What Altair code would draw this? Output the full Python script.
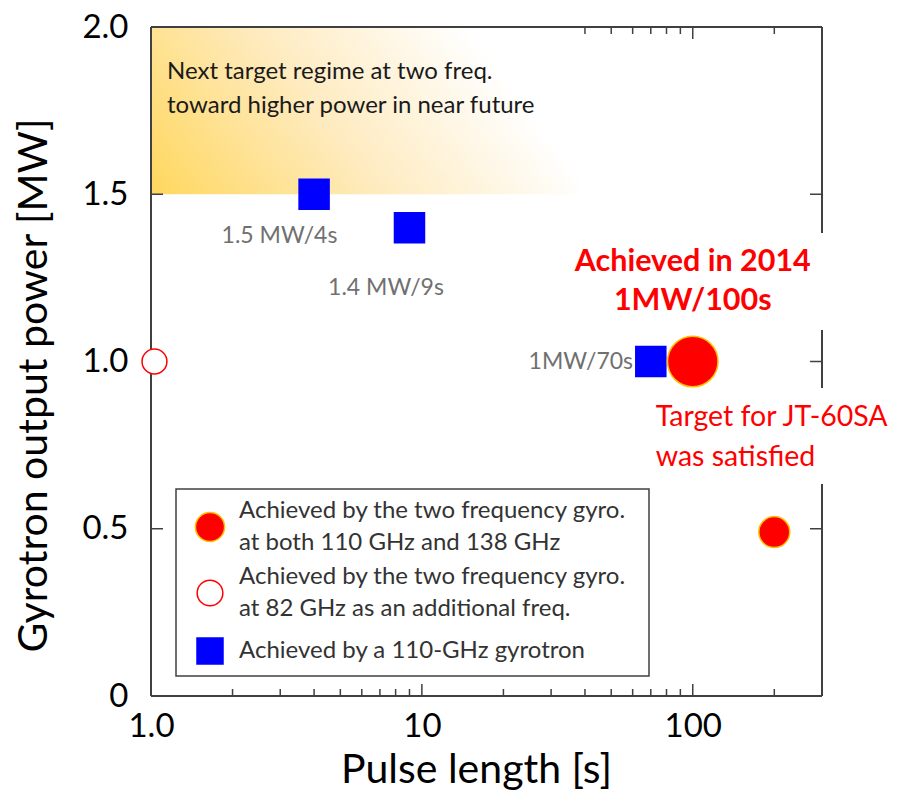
import altair as alt
import pandas as pd

# ---------------- data ----------------
two_freq_pulse = [100, 200]
two_freq_power = [1.0, 0.49]
add_freq_pulse = [1.03]
add_freq_power = [1.0]
g110_pulse = [4, 9, 70]
g110_power = [1.5, 1.4, 1.0]

legend_lines = [
    ["Achieved by the two frequency gyro.", "at both 110 GHz and 138 GHz"],
    ["Achieved by the two frequency gyro.", "at 82 GHz as an additional freq."],
    ["Achieved by a 110-GHz gyrotron"],
]

x_ticks_major = [1, 10, 100]
x_ticks_minor = [2, 3, 4, 5, 6, 7, 8, 9, 20, 30, 40, 50, 60, 70, 80, 90, 200]
y_ticks = [0, 0.5, 1.0, 1.5, 2.0]
y_ticks_inner = [0.5, 1.0, 1.5]
x_domain = [1, 300]
y_domain = [0, 2]

region_pulse = [1, 38]
region_power = [1.5, 2.0]

note_text = ["Next target regime at two freq.", "toward higher power in near future"]
note_pulse = [1.146, 1.146]
note_power = [1.864, 1.765]

grey_text = ["1.5 MW/4s", "1.4 MW/9s"]
grey_pulse = [2.98, 7.37]
grey_power = [1.375, 1.221]

grey_text_r = ["1MW/70s"]
grey_pulse_r = [60.2]
grey_power_r = [1.0]

bold_text = ["Achieved in 2014", "1MW/100s"]
bold_pulse = [100, 100]
bold_power = [1.297, 1.181]

target_text = ["Target for JT-60SA", "was satisfied"]
target_pulse = [73, 73]
target_power = [0.834, 0.7145]

# white text-box backgrounds (data units)
box_x1 = [35, 69]
box_x2 = [400, 600]
box_y1 = [1.094, 0.634]
box_y2 = [1.384, 0.921]

W, H = 671, 669
FRAME = "#404040"
FONT = "Lato"

xscale = alt.Scale(type="log", domain=x_domain, nice=False)
yscale = alt.Scale(domain=y_domain, nice=False, zero=False)

xaxis = alt.Axis(
    values=x_ticks_major,
    labelExpr="datum.value == 1 ? '1.0' : format(datum.value, 'd')",
    ticks=False, tickSize=0, domain=False, grid=False, labelFlush=False,
    labelFontSize=33, labelFont=FONT, labelColor="#000000", labelPadding=14,
    title="Pulse length [s]", titleFontSize=41, titleFont=FONT,
    titleFontWeight="normal", titleColor="#000000",
    titleX=325, titleY=86, titleBaseline="alphabetic", titleAlign="center",
)
yaxis = alt.Axis(
    values=y_ticks,
    labelExpr="datum.value == 0 ? '0' : format(datum.value, '.1f')",
    ticks=False, tickSize=0, domain=False, grid=False, labelFlush=False,
    labelFontSize=33, labelFont=FONT, labelColor="#000000", labelPadding=23,
    title="Gyrotron output power [MW]", titleFontSize=41, titleFont=FONT,
    titleFontWeight="normal", titleColor="#000000",
    titleX=-105, titleY=358, titleAngle=270, titleBaseline="alphabetic",
    titleAlign="center",
)


def X(field):
    return alt.X(field, scale=xscale, axis=xaxis)


def Y(field):
    return alt.Y(field, scale=yscale, axis=yaxis)


# ---------------- layers ----------------
gradient = alt.LinearGradient(
    gradient="linear",
    stops=[
        alt.GradientStop(offset=0, color="#FFD75E"),
        alt.GradientStop(offset=0.5, color="#FEEBC0"),
        alt.GradientStop(offset=0.95, color="#FFFFFF"),
    ],
    x1=0, y1=1, x2=1, y2=0.7,
)
region = alt.Chart(pd.DataFrame({
    "x1": [region_pulse[0]], "x2": [region_pulse[1]],
    "y1": [region_power[0]], "y2": [region_power[1]],
})).mark_rect(color=gradient).encode(
    x=X("x1:Q"), x2="x2:Q", y=Y("y1:Q"), y2="y2:Q",
)

frame_h = alt.Chart(pd.DataFrame({
    "power": y_domain, "x1": [x_domain[0]] * 2, "x2": [x_domain[1]] * 2,
})).mark_rule(color=FRAME, strokeWidth=2).encode(
    x=X("x1:Q"), x2="x2:Q", y=Y("power:Q"),
)
frame_v = alt.Chart(pd.DataFrame({
    "pulse": x_domain, "y1": [y_domain[0]] * 2, "y2": [y_domain[1]] * 2,
})).mark_rule(color=FRAME, strokeWidth=2).encode(
    x=X("pulse:Q"), y=Y("y1:Q"), y2="y2:Q",
)

boxes = alt.Chart(pd.DataFrame({
    "x1": box_x1, "x2": box_x2, "y1": box_y1, "y2": box_y2,
})).mark_rect(color="#FFFFFF").encode(
    x=X("x1:Q"), x2="x2:Q", y=Y("y1:Q"), y2="y2:Q",
)


def xticks(vals, y0, y1):
    return alt.Chart(pd.DataFrame({"v": vals})).mark_rule(
        color=FRAME, strokeWidth=1.5).encode(
        x=X("v:Q"), y=alt.value(y0), y2=alt.value(y1))


def yticks(vals, x0, x1):
    return alt.Chart(pd.DataFrame({"v": vals})).mark_rule(
        color=FRAME, strokeWidth=1.5).encode(
        y=Y("v:Q"), x=alt.value(x0), x2=alt.value(x1))


top_ticks = [xticks(x_ticks_minor, 0, 7), xticks(x_ticks_major, 0, 12)]
other_ticks = [
    xticks(x_ticks_minor, H, H - 7),
    xticks(x_ticks_major, H, H - 12),
    yticks(y_ticks_inner, 0, 12),
    yticks(y_ticks_inner, W, W - 12),
]

RED, BLUE, GOLD = "#FF0000", "#0000FF", "#FFC000"


def series(px, py, size, **mk):
    df = pd.DataFrame({"pulse": px, "power": py})
    return alt.Chart(df).mark_point(opacity=1, strokeWidth=1.5, **mk).encode(
        x=X("pulse:Q"), y=Y("power:Q"), size=size,
    )


pts_110 = series(g110_pulse, g110_power, alt.value(900),
                 shape="square", filled=True, fill=BLUE, stroke=BLUE)
pts_add = series(add_freq_pulse, add_freq_power, alt.value(620),
                 shape="circle", filled=True, fill="#FFFFFF", stroke=RED)
pts_two = series(two_freq_pulse, two_freq_power,
                 alt.condition("datum.pulse == 100", alt.value(2550), alt.value(960)),
                 shape="circle", filled=True, fill=RED, stroke=GOLD)


def texts(t, px, py, **kw):
    df = pd.DataFrame({"t": t, "pulse": px, "power": py})
    return alt.Chart(df).mark_text(baseline="middle", font=FONT, **kw).encode(
        x=X("pulse:Q"), y=Y("power:Q"), text="t:N",
    )


txt = [
    texts(note_text, note_pulse, note_power, align="left", fontSize=24, color="#1a1a1a"),
    texts(grey_text, grey_pulse, grey_power, align="center", fontSize=23, color="#707070"),
    texts(grey_text_r, grey_pulse_r, grey_power_r, align="right", fontSize=23, color="#707070"),
    texts(bold_text, bold_pulse, bold_power, align="center", fontSize=30.5,
          fontWeight="bold", color=RED),
    texts(target_text, target_pulse, target_power, align="left", fontSize=28.5,
          color=RED),
]

# ---------------- legend (drawn as a guide box) ----------------
LX0, LX1, LY0, LY1 = 25, 498, 462, 649
SYM_X, TXT_X = 59, 88
row_sym_y = [500, 566, 624]
row_line_y = [[484, 516], [550, 582], [624]]
sym_styles = [
    dict(shape="circle", fill=RED, stroke=GOLD, size=850),
    dict(shape="circle", fill="#FFFFFF", stroke=RED, size=660),
    dict(shape="square", fill=BLUE, stroke=BLUE, size=676),
]
one = pd.DataFrame({"k": [0]})
legend_layers = [
    alt.Chart(one).mark_rect(fill="#FFFFFF", stroke=FRAME, strokeWidth=1.5).encode(
        x=alt.value(LX0), x2=alt.value(LX1), y=alt.value(LY0), y2=alt.value(LY1))
]
for i, lines in enumerate(legend_lines):
    st = sym_styles[i]
    legend_layers.append(
        alt.Chart(one).mark_point(filled=True, opacity=1, strokeWidth=1.5,
                                  shape=st["shape"], fill=st["fill"],
                                  stroke=st["stroke"], size=st["size"]).encode(
            x=alt.value(SYM_X), y=alt.value(row_sym_y[i]))
    )
    for line, ly in zip(lines, row_line_y[i]):
        legend_layers.append(
            alt.Chart(pd.DataFrame({"t": [line]})).mark_text(
                align="left", baseline="middle", font=FONT, fontSize=24,
                color="#333333").encode(
                x=alt.value(TXT_X), y=alt.value(ly), text="t:N")
        )

chart = alt.layer(
    *top_ticks, region, frame_h, frame_v, boxes, *other_ticks,
    pts_110, pts_add, pts_two, *txt, *legend_layers
).properties(
    width=W, height=H,
    autosize=alt.AutoSizeParams(type="none"),
    padding={"left": 143, "top": 19, "right": 72, "bottom": 95},
).configure(
    view=alt.ViewConfig(stroke=None),
)

chart.save("out.html", embed_options={"renderer": "svg", "actions": False})
